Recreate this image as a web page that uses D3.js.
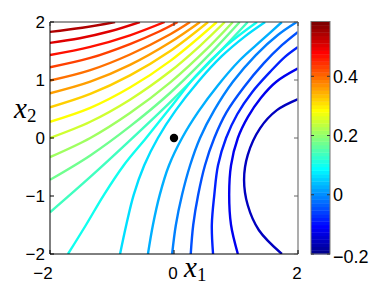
<!DOCTYPE html>
<html>
<head>
<meta charset="utf-8">
<script src="https://cdn.jsdelivr.net/npm/d3@7"></script>
<style>
  body { margin: 0; background: #fff; }
  svg { display: block; }
</style>
</head>
<body>
<svg class="chart" width="382" height="286"></svg>
<script>

// contour levels, top-left (high) to right (low)
const levels = [0.548, 0.510, 0.473, 0.436, 0.398, 0.361, 0.323, 0.286, 0.249, 0.211,
                0.174, 0.136, 0.099, 0.062, 0.024, -0.013, -0.051, -0.088, -0.125, -0.163];

// contour lines, [x1, x2]
const c01 = [[-2, 1.83], [-1.48, 1.9], [-0.95, 2]];
const c02 = [[-2, 1.64], [-1.52, 1.72], [-1.03, 1.84], [-0.55, 2]];
const c03 = [[-2, 1.43], [-1.35, 1.57], [-0.71, 1.77], [-0.15, 2]];
const c04 = [[-2, 1.22], [-1.35, 1.38], [-0.71, 1.62], [-0.23, 1.84], [0.06, 2]];
const c05 = [[-2, 0.99], [-1.35, 1.17], [-0.71, 1.44], [-0.06, 1.79], [0.26, 2]];
const c06 = [[-2, 0.77], [-1.35, 0.97], [-0.71, 1.26], [-0.06, 1.65], [0.42, 2]];
const c07 = [[-2, 0.53], [-1.35, 0.76], [-0.71, 1.08], [-0.06, 1.50], [0.55, 2]];
const c08 = [[-2, 0.28], [-1.35, 0.52], [-0.71, 0.87], [-0.06, 1.33], [0.69, 2]];
const c09 = [[-2, 0], [-1.35, 0.28], [-0.71, 0.66], [-0.06, 1.15], [0.42, 1.59], [0.82, 2]];
const c10 = [[-2, -0.33], [-1.35, 0], [-0.71, 0.43], [-0.06, 0.96], [0.58, 1.59], [0.95, 2]];
const c11 = [[-2, -0.72], [-1.35, -0.30], [-0.71, 0.20], [-0.06, 0.78], [0.58, 1.45], [1.06, 2]];
const c12 = [[-2, -1.28], [-1.35, -0.67], [-0.71, -0.04], [-0.06, 0.62], [0.58, 1.31], [1.19, 2]];
const c13 = [[-1.71, -2], [-1.42, -1.5], [-1.13, -0.98], [-0.81, -0.47], [-0.45, 0], [-0.06, 0.52], [0.35, 1.07], [0.84, 1.59], [1.34, 2]];
const c14 = [[-0.87, -2], [-0.77, -1.5], [-0.65, -0.98], [-0.48, -0.47], [-0.26, 0], [0.03, 0.48], [0.39, 0.97], [0.77, 1.41], [1.13, 1.74], [1.47, 2]];
const c15 = [[-0.42, -2], [-0.34, -1.5], [-0.23, -0.98], [-0.08, -0.47], [0.13, 0], [0.39, 0.45], [0.71, 0.91], [1.06, 1.34], [1.42, 1.69], [1.74, 2]];
const c16 = [[-0.03, -2], [0.03, -1.5], [0.13, -0.98], [0.26, -0.47], [0.42, 0], [0.65, 0.48], [0.95, 0.97], [1.32, 1.43], [1.68, 1.78], [1.98, 2]];
const c17 = [[0.27, -2], [0.31, -1.5], [0.39, -0.98], [0.50, -0.47], [0.65, 0], [0.85, 0.45], [1.13, 0.88], [1.45, 1.29], [1.74, 1.6], [2, 1.83]];
const c18 = [[0.63, -2], [0.61, -1.5], [0.65, -0.98], [0.71, -0.47], [0.84, 0], [1.02, 0.41], [1.26, 0.79], [1.55, 1.14], [1.79, 1.4], [2, 1.57]];
const c19 = [[1.03, -2], [0.92, -1.5], [0.89, -0.98], [0.92, -0.47], [1.03, 0], [1.19, 0.36], [1.40, 0.69], [1.65, 0.97], [2, 1.20]];
const c20 = [[1.74, -2], [1.37, -1.59], [1.19, -1.16], [1.13, -0.72], [1.19, -0.29], [1.39, 0.17], [1.66, 0.48], [2, 0.67]];

const lines = [c01, c02, c03, c04, c05, c06, c07, c08, c09, c10,
               c11, c12, c13, c14, c15, c16, c17, c18, c19, c20];

const marker = [0, 0];

const xTicks = [-2, 0, 2];
const yTicks = [-2, -1, 0, 1, 2];
const cbTicks = [-0.2, 0, 0.2, 0.4];
const cbRange = [-0.2, 0.585];

const svg = d3.select('.chart');

const plot = { left: 50, right: 298, top: 22, bottom: 254 };
const cb = { left: 311, right: 330 };

const x = d3.scaleLinear().domain([-2, 2]).range([plot.left, plot.right]);
const y = d3.scaleLinear().domain([-2, 2]).range([plot.bottom, plot.top]);
const yc = d3.scaleLinear().domain(cbRange).range([plot.bottom, plot.top - 0.5]);

// matlab jet(64)
function jet(i) {
    const t = i / 64;
    const c = v => Math.round(255 * Math.max(0, Math.min(1, v)));
    return d3.rgb(c(1.5 - Math.abs(4 * t - 3)), c(1.5 - Math.abs(4 * t - 2)), c(1.5 - Math.abs(4 * t - 1)));
}

function levelColor(v) {
    const i = Math.floor((v - cbRange[0]) / (cbRange[1] - cbRange[0]) * 64) + 1;
    return jet(Math.max(1, Math.min(64, i)));
}

svg.append('clipPath').attr('id', 'clip')
    .append('rect')
    .attr('x', plot.left).attr('y', plot.top)
    .attr('width', plot.right - plot.left).attr('height', plot.bottom - plot.top);

const line = d3.line()
    .x(d => x(d[0]))
    .y(d => y(d[1]))
    .curve(d3.curveCatmullRom.alpha(0.5));

svg.append('g')
    .attr('clip-path', 'url(#clip)')
    .selectAll('path')
    .data(lines)
    .join('path')
    .attr('d', line)
    .attr('fill', 'none')
    .attr('stroke', (d, i) => levelColor(levels[i]))
    .attr('stroke-width', 2.4);

svg.append('circle')
    .attr('cx', x(marker[0]))
    .attr('cy', y(marker[1]))
    .attr('r', 4.2)
    .attr('fill', '#000');

// axes box
const box = svg.append('g').attr('fill', 'none');
box.append('line').attr('x1', plot.left).attr('x2', plot.left).attr('y1', plot.top).attr('y2', plot.bottom).attr('stroke', '#000');
box.append('line').attr('x1', plot.left).attr('x2', plot.right).attr('y1', plot.bottom).attr('y2', plot.bottom).attr('stroke', '#000');
box.append('line').attr('x1', plot.left).attr('x2', plot.right).attr('y1', plot.top).attr('y2', plot.top).attr('stroke', '#333');
box.append('line').attr('x1', plot.right).attr('x2', plot.right).attr('y1', plot.top).attr('y2', plot.bottom).attr('stroke', '#999').attr('stroke-width', 1.6);

const tickLen = 4;
yTicks.forEach(t => {
    box.append('line').attr('x1', plot.left).attr('x2', plot.left + tickLen).attr('y1', y(t)).attr('y2', y(t)).attr('stroke', '#000');
    box.append('line').attr('x1', plot.right - tickLen).attr('x2', plot.right).attr('y1', y(t)).attr('y2', y(t)).attr('stroke', '#666');
});
xTicks.forEach(t => {
    box.append('line').attr('x1', x(t)).attr('x2', x(t)).attr('y1', plot.bottom).attr('y2', plot.bottom - tickLen).attr('stroke', '#000');
    box.append('line').attr('x1', x(t)).attr('x2', x(t)).attr('y1', plot.top).attr('y2', plot.top + tickLen).attr('stroke', '#333');
});

const fmt = v => (v < 0 ? '\u2212' : '') + Math.abs(v);
const font = 'Liberation Sans, Arial, sans-serif';

svg.append('g').selectAll('text')
    .data(yTicks)
    .join('text')
    .attr('x', plot.left - 5)
    .attr('y', d => y(d))
    .attr('dy', '0.36em')
    .attr('text-anchor', 'end')
    .attr('font-family', font)
    .attr('font-size', 17)
    .text(fmt);

svg.append('g').selectAll('text')
    .data(xTicks)
    .join('text')
    .attr('x', d => x(d) + (d < 0 ? -7 : -1))
    .attr('y', 279)
    .attr('text-anchor', 'middle')
    .attr('font-family', font)
    .attr('font-size', 17)
    .text(fmt);

// axis labels
const xl = svg.append('text')
    .attr('x', 184).attr('y', 277)
    .attr('font-family', 'Liberation Serif, DejaVu Serif, serif');
xl.append('tspan').attr('font-style', 'italic').attr('font-size', 29).text('x');
xl.append('tspan').attr('font-size', 19).attr('dy', 4).text('1');

const yl = svg.append('text')
    .attr('x', 14).attr('y', 118)
    .attr('font-family', 'Liberation Serif, DejaVu Serif, serif');
yl.append('tspan').attr('font-style', 'italic').attr('font-size', 29).text('x');
yl.append('tspan').attr('font-size', 19).attr('dy', 4).text('2');

// colorbar
const bands = d3.range(1, 65);
const bandH = (yc(cbRange[0]) - yc(cbRange[1])) / 64;

svg.append('g').selectAll('rect')
    .data(bands)
    .join('rect')
    .attr('x', cb.left)
    .attr('width', cb.right - cb.left)
    .attr('y', i => yc(cbRange[0]) - i * bandH)
    .attr('height', bandH + 0.4)
    .attr('fill', i => jet(i));

svg.append('rect')
    .attr('x', cb.left).attr('y', yc(cbRange[1]))
    .attr('width', cb.right - cb.left)
    .attr('height', yc(cbRange[0]) - yc(cbRange[1]))
    .attr('fill', 'none')
    .attr('stroke', '#777')
    .attr('stroke-width', 1);

cbTicks.forEach(t => {
    svg.append('line').attr('x1', cb.left).attr('x2', cb.left + 3).attr('y1', yc(t)).attr('y2', yc(t)).attr('stroke', '#333');
    svg.append('line').attr('x1', cb.right - 3).attr('x2', cb.right).attr('y1', yc(t)).attr('y2', yc(t)).attr('stroke', '#333');
});

svg.append('g').selectAll('text')
    .data(cbTicks)
    .join('text')
    .attr('x', cb.right + 3)
    .attr('y', d => yc(d))
    .attr('dy', d => d === -0.2 ? '0.5em' : '0.36em')
    .attr('font-family', font)
    .attr('font-size', 18)
    .text(fmt);

</script>
</body>
</html>
